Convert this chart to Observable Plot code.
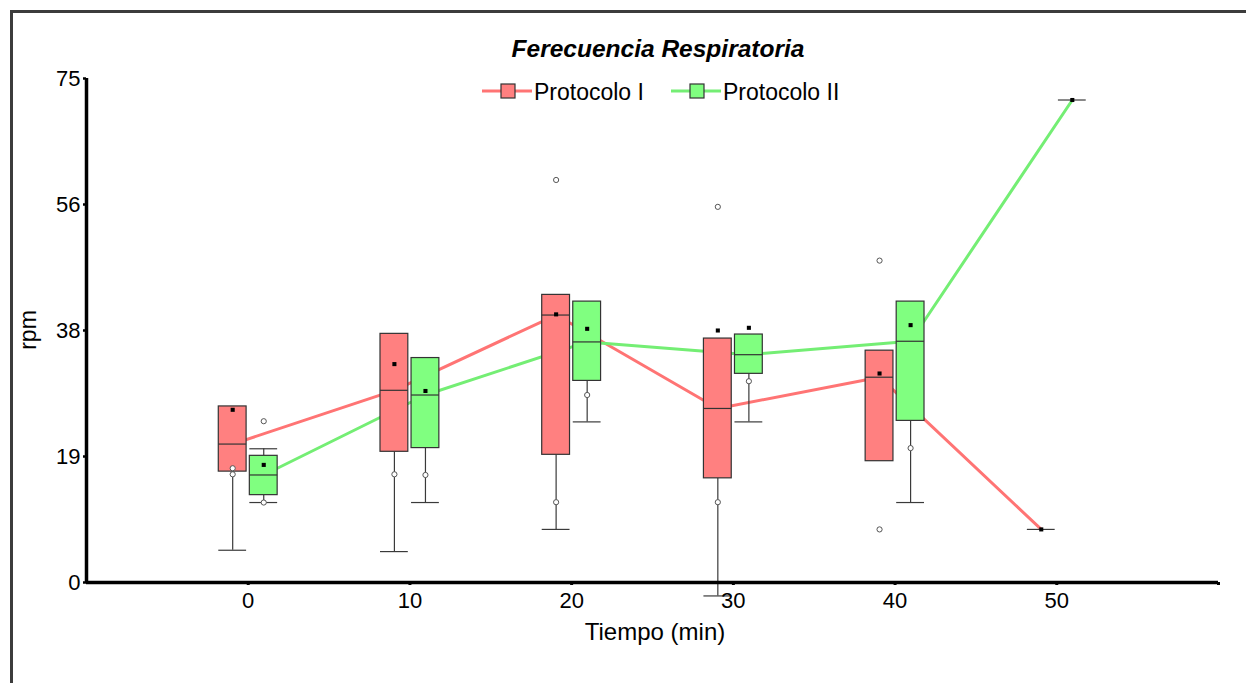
<!DOCTYPE html>
<html><head><meta charset="utf-8">
<script src="https://cdn.jsdelivr.net/npm/d3@7"></script>
<script src="https://cdn.jsdelivr.net/npm/@observablehq/plot@0.6"></script>
<style>
html,body{margin:0;padding:0;background:#fff;}
#wrap{position:relative;width:1246px;height:683px;overflow:hidden;font-family:"Liberation Sans",Arial,sans-serif;}
#frame{position:absolute;left:10px;top:10px;width:1400px;height:900px;border-left:3px solid #3c3c3c;border-top:3px solid #3c3c3c;box-sizing:border-box;}
#chart{position:absolute;left:0;top:0;}
#overlay{position:absolute;left:0;top:0;pointer-events:none;}
</style>
</head><body>
<div id="wrap"><div id="frame"></div><div id="chart"></div>
<svg id="overlay" width="1246" height="683" font-family="Liberation Sans, Arial, sans-serif"></svg></div>
<script>
// ---- data ----
const times = [0, 10, 20, 30, 40, 50];
const seriesNames = ["Protocolo I", "Protocolo II"];

const q1I      = [16.5, 19.45, 19.0, 15.5, 18.05, null];
const q3I      = [26.2, 37.0, 42.8, 36.3, 34.5, null];
const medianI  = [20.6, 28.6, 39.8, 25.9, 30.55, 7.9];
const meanI    = [25.7, 32.5, 39.9, 37.5, 31.1, 7.9];
const whiskLoI = [4.8, 4.6, 7.9, -2.0, null, 7.9];
const whiskHiI = [null, null, null, null, null, null];
const outliersI = [[17.0, 16.1], [16.1], [59.9, 11.95], [55.9, 11.95], [47.9, 7.9], []];

const q1II      = [13.0, 20.0, 30.0, 31.05, 24.05, null];
const q3II      = [18.85, 33.4, 41.8, 36.9, 41.8, null];
const medianII  = [16.0, 27.9, 35.8, 33.9, 35.9, 71.8];
const meanII    = [17.5, 28.5, 37.75, 37.9, 38.3, 71.8];
const whiskLoII = [11.9, 11.9, 23.9, 23.9, 11.9, 71.8];
const whiskHiII = [19.9, null, null, null, null, null];
const outliersII = [[24.0, 11.9], [16.0], [27.9], [29.95], [20.0], []];

const yTickValues = [0, 18.75, 37.5, 56.25, 75];
const yTickLabels = ["0", "19", "38", "56", "75"];
const xTickValues = [0, 10, 20, 30, 40, 50, 60];
const xTickLabels = ["0", "10", "20", "30", "40", "50", ""];

const title = "Ferecuencia Respiratoria";
const xLabel = "Tiempo (min)";
const yLabel = "rpm";

// ---- styling ----
const fills = ["#ff8080", "#80ff80"];
const lineColors = ["#ff7474", "#74ee74"];
const offsets = [-0.96, 0.96];
const halfW = 0.86;

function buildRows(k, q1, q3, med, mean, lo, hi) {
  return times.map((t, i) => ({
    t, x: t + offsets[k], x1: t + offsets[k] - halfW, x2: t + offsets[k] + halfW,
    q1: q1[i], q3: q3[i], med: med[i], mean: mean[i], lo: lo[i], hi: hi[i]
  }));
}
function buildOut(k, outs) {
  const r = [];
  outs.forEach((vals, i) => vals.forEach(v => r.push({x: times[i] + offsets[k], y: v})));
  return r;
}
const rows = [
  buildRows(0, q1I, q3I, medianI, meanI, whiskLoI, whiskHiI),
  buildRows(1, q1II, q3II, medianII, meanII, whiskLoII, whiskHiII)
];
const outs = [buildOut(0, outliersI), buildOut(1, outliersII)];

const marks = [];
// connecting lines (behind boxes)
rows.forEach((r, k) => marks.push(Plot.line(r, {x: "x", y: "med", stroke: lineColors[k], strokeWidth: 3})));
rows.forEach((r, k) => {
  const withBox = r.filter(d => d.q1 != null);
  const lo = r.filter(d => d.lo != null);
  const hi = r.filter(d => d.hi != null);
  marks.push(Plot.ruleX(lo.filter(d => d.q1 != null), {x: "x", y1: "q1", y2: "lo", stroke: "#3a3a3a", strokeWidth: 1.2}));
  marks.push(Plot.ruleX(hi, {x: "x", y1: "q3", y2: "hi", stroke: "#3a3a3a", strokeWidth: 1.2}));
  marks.push(Plot.ruleY(lo, {y: "lo", x1: "x1", x2: "x2", stroke: "#3a3a3a", strokeWidth: 1.2}));
  marks.push(Plot.ruleY(hi, {y: "hi", x1: "x1", x2: "x2", stroke: "#3a3a3a", strokeWidth: 1.2}));
  marks.push(Plot.rectY(withBox, {x1: "x1", x2: "x2", y1: "q1", y2: "q3", fill: fills[k], stroke: "#333", strokeWidth: 1.2}));
  marks.push(Plot.ruleY(withBox, {y: "med", x1: "x1", x2: "x2", stroke: "#333", strokeWidth: 1.2}));
  marks.push(Plot.dot(outs[k], {x: "x", y: "y", r: 2.6, fill: "white", stroke: "#555", strokeWidth: 1}));
  marks.push(Plot.dot(r, {x: "x", y: "mean", symbol: "square", r: 2.3, fill: "black", stroke: "none"}));
});
// axes
marks.push(Plot.axisY({ticks: yTickValues, tickFormat: d => yTickLabels[yTickValues.indexOf(d)], tickSize: 3, tickPadding: 3, strokeWidth: 2.5, label: null, fontSize: 22}));
marks.push(Plot.axisX({ticks: xTickValues, tickFormat: d => xTickLabels[xTickValues.indexOf(d)], tickSize: 3, tickPadding: 7, strokeWidth: 3, label: null, fontSize: 22}));
marks.push(Plot.ruleX([-10], {y1: 0, y2: 75, stroke: "black", strokeWidth: 3.5}));
marks.push(Plot.ruleY([0], {x1: -10, x2: 60, stroke: "black", strokeWidth: 3.5}));

const chart = Plot.plot({
  width: 1246, height: 683,
  marginLeft: 86, marginRight: 28, marginTop: 78, marginBottom: 101,
  x: {domain: [-10, 60]},
  y: {domain: [0, 75]},
  style: {fontFamily: "Liberation Sans, Arial, sans-serif", fontSize: "22px", color: "#000", background: "transparent", overflow: "visible"},
  marks
});
document.getElementById("chart").appendChild(chart);

// ---- title, legend, axis labels ----
const ov = d3.select("#overlay");
ov.append("text").attr("x", 658).attr("y", 57).attr("text-anchor", "middle")
  .attr("font-size", 24.5).attr("font-weight", "bold").attr("font-style", "italic").text(title);
const legendX = [482, 671];
seriesNames.forEach((name, k) => {
  const g = ov.append("g").attr("transform", `translate(${legendX[k]},91)`);
  g.append("line").attr("x1", 0).attr("x2", 50).attr("y1", 0).attr("y2", 0).attr("stroke", lineColors[k]).attr("stroke-width", 3);
  g.append("rect").attr("x", 19).attr("y", -7).attr("width", 14).attr("height", 14).attr("fill", fills[k]).attr("stroke", "#333").attr("stroke-width", 1.2);
  g.append("text").attr("x", 52).attr("y", 9).attr("font-size", 23).text(name);
});
ov.append("text").attr("x", 655).attr("y", 640).attr("text-anchor", "middle").attr("font-size", 24).text(xLabel);
ov.append("text").attr("transform", "translate(36,330) rotate(-90)").attr("text-anchor", "middle").attr("font-size", 23).text(yLabel);
</script>
</body></html>
